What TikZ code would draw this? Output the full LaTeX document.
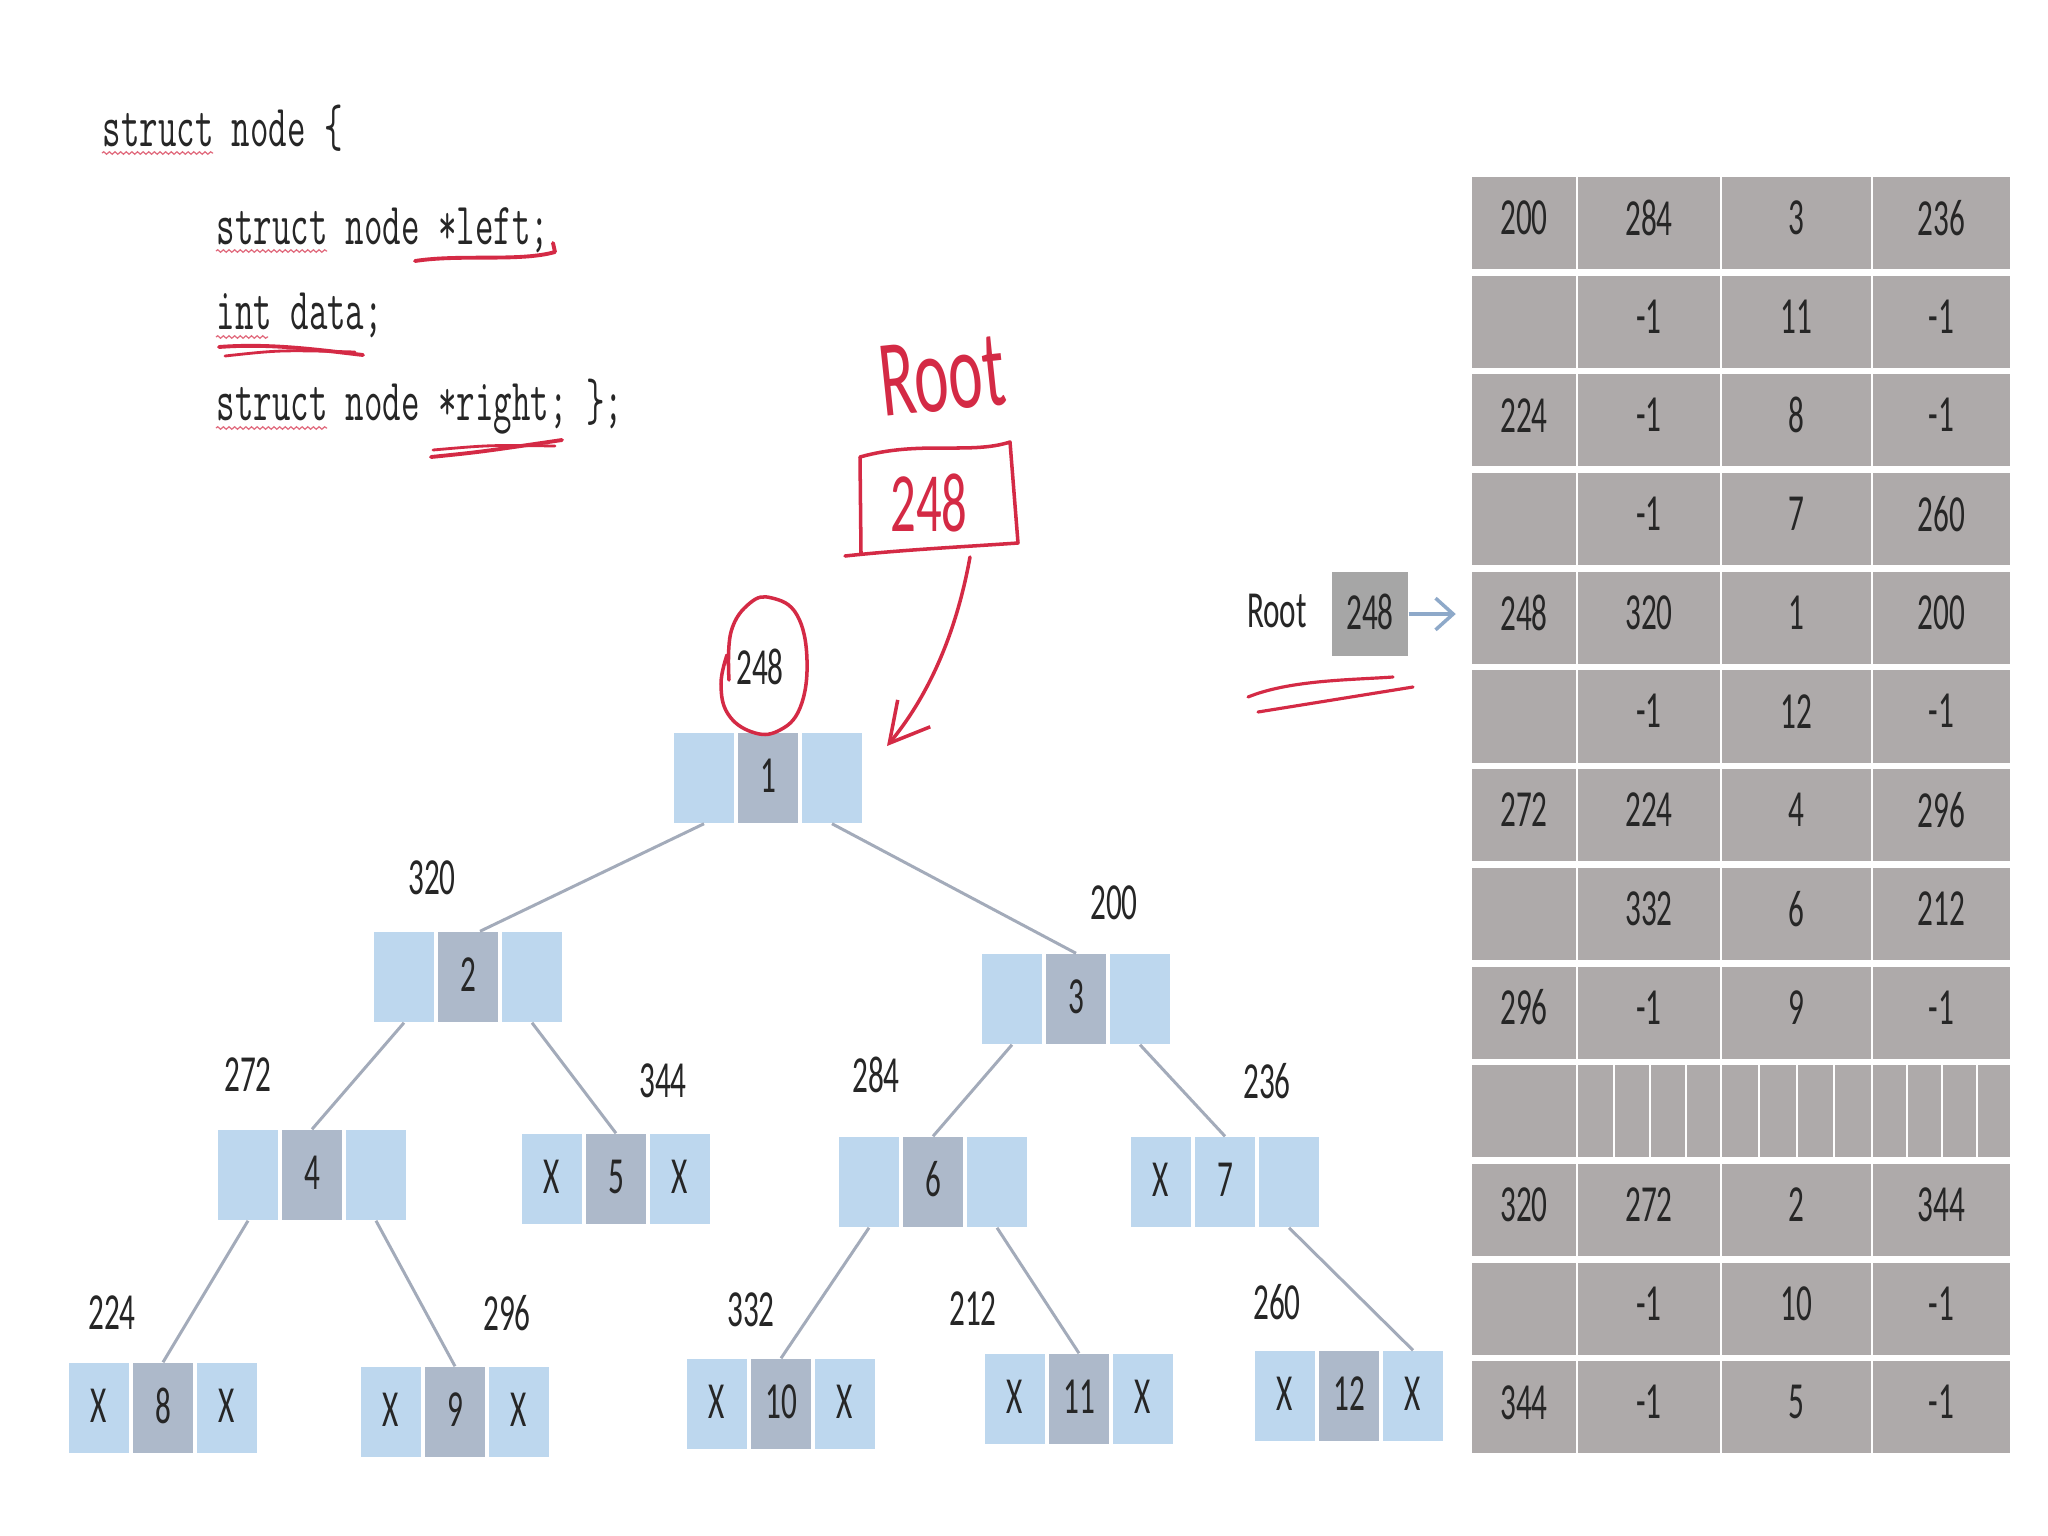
\documentclass[tikz,border=0pt]{standalone}
\usepackage{fontspec}
\usetikzlibrary{arrows.meta,decorations.pathmorphing}
\newfontfamily\numf[FakeStretch=0.6]{Carlito}
\newfontfamily\codef[FakeStretch=0.6]{Latin Modern Mono}
\definecolor{lblue}{HTML}{BDD7EE}
\definecolor{mblue}{HTML}{ADB9CA}
\definecolor{tgray}{HTML}{AEAAAA}
\definecolor{rgray}{HTML}{A6A6A6}
\definecolor{edgec}{HTML}{A3ABBA}
\definecolor{pen}{HTML}{D42A45}
\definecolor{ink}{HTML}{262626}
\definecolor{arrowc}{HTML}{8EA9C9}
\tikzset{
 num/.style={font=\numf\fontsize{14.8}{17}\selectfont, text=ink, inner sep=0pt},
 sidebox/.style={num, fill=lblue, minimum width=0.6cm, minimum height=0.9cm, text depth=1.5pt},
 midbox/.style={num, fill=mblue, minimum width=0.6cm, minimum height=0.9cm, text depth=1.5pt},
 link/.style={draw=edgec, line width=0.85pt},
 cell/.style={num, fill=tgray, minimum height=0.92cm, text depth=3pt},
 code/.style={font=\codef\fontsize{17}{20}\selectfont, text=ink, anchor=base west, inner sep=0pt},
 squig/.style={draw=pen!70, line width=0.35pt, decorate, decoration={snake, amplitude=0.35pt, segment length=1.6pt}},
 marker/.style={draw=pen, line width=1.1pt, line cap=round, line join=round},
 hand/.style={font=\numf\fontsize{31}{34}\selectfont, text=pen, inner sep=0pt},
}
\newcommand\tripl[7]{%
 \node[sidebox] (#1l) at (#2-64,#3) {#4};
 \node[#7] (#1m) at (#2,#3) {#5};
 \node[sidebox] (#1r) at (#2+64,#3) {#6};
}
\begin{document}
\begin{tikzpicture}[x=0.01cm,y=-0.01cm]
\fill[white] (0,0) rectangle (2048,1536);
\useasboundingbox (0,0) rectangle (2048,1536);

% code
\node[code] (c1) at (102,146) {struct node \{};
\node[code] (c2) at (216,244) {struct node *left;};
\node[code] (c3) at (216,329) {int data;};
\node[code] (c4) at (216,420) {struct node *right; \};};
\draw[squig] (102,153) -- (213,153);
\draw[squig] (216,251) -- (327,251);
\draw[squig] (216,337) -- (268,337);
\draw[squig] (216,428) -- (327,428);
\draw[marker] (415,261) .. controls (460,254) and (520,262) .. (555,252) -- (553,243);
\draw[marker] (219,347) .. controls (270,343) and (320,350) .. (363,355);
\draw[marker, line width=0.8pt] (225,356) .. controls (280,350) .. (355,352);
\draw[marker] (431,457) .. controls (480,452) .. (562,440);
\draw[marker, line width=0.8pt] (433,450) .. controls (490,445) .. (555,446);

% handwritten root note
\node[hand, rotate=6] (hroot) at (942,376) {Root};
\node[hand, font=\numf\fontsize{24}{26}\selectfont] (hval) at (929,503) {248};
\draw[marker, line width=1pt] (860,457) .. controls (920,440) and (970,455) .. (1010,442) -- (1018,543) .. controls (960,547) and (900,550) .. (845,556);
\draw[marker, line width=1pt] (860,457) -- (861,553);
\coordinate (arrs) at (970,557);
\coordinate (arre) at (887,746);
\draw[marker, line width=1pt, -{Straight Barb[length=11pt,width=12pt]}] (arrs) .. controls (955,640) and (925,700) .. (arre);

% tree nodes
\tripl{n1}{768}{778}{}{1}{}{midbox}
\tripl{n2}{468}{977}{}{2}{}{midbox}
\tripl{n3}{1076}{999}{}{3}{}{midbox}
\tripl{n4}{312}{1175}{}{4}{}{midbox}
\tripl{n5}{616}{1179}{X}{5}{X}{midbox}
\tripl{n6}{933}{1182}{}{6}{}{midbox}
\tripl{n7}{1225}{1182}{X}{7}{}{sidebox}
\tripl{n8}{163}{1408}{X}{8}{X}{midbox}
\tripl{n9}{455}{1412}{X}{9}{X}{midbox}
\tripl{n10}{781}{1404}{X}{10}{X}{midbox}
\tripl{n11}{1079}{1399}{X}{11}{X}{midbox}
\tripl{n12}{1349}{1396}{X}{12}{X}{midbox}

\draw[link] (n1l.south) -- ([xshift=1.2mm]n2m.north);
\draw[link] (n1r.south) -- (n3m.north);
\draw[link] (n2l.south) -- (n4m.north);
\draw[link] (n2r.south) -- (n5m.north);
\draw[link] (n3l.south) -- (n6m.north);
\draw[link] (n3r.south) -- (n7m.north);
\draw[link] (n4l.south) -- (n8m.north);
\draw[link] (n4r.south) -- (n9m.north);
\draw[link] (n6l.south) -- (n10m.north);
\draw[link] (n6r.south) -- (n11m.north);
\draw[link] (n7r.south) -- (n12r.north);

% address labels
\node[num] (a1) at (760,667) {248};
\node[num] (a2) at (432,878) {320};
\node[num] (a3) at (1114,903) {200};
\node[num] (a4) at (248,1075) {272};
\node[num] (a5) at (663,1081) {344};
\node[num] (a6) at (876,1075) {284};
\node[num] (a7) at (1267,1081) {236};
\node[num] (a8) at (112,1313) {224};
\node[num] (a9) at (507,1313) {296};
\node[num] (a10) at (751,1310) {332};
\node[num] (a11) at (973,1309) {212};
\node[num] (a12) at (1277,1302) {260};
\draw[pen, line width=1pt, line cap=round] plot[smooth, tension=0.7] coordinates {(729,680) (731,632) (750,603) (772,598) (797,615) (807,660) (800,708) (778,731) (752,732) (728,714) (721,684) (727,655)};

% root pointer
\node[num] (rootlbl) at (1277,611) {Root};
\node[num, fill=rgray, minimum width=0.76cm, minimum height=0.84cm, text depth=1.5pt] (rootbox) at (1370,614) {248};
\draw[marker, line width=0.9pt] (1248,697) .. controls (1290,680) and (1350,680) .. (1393,677);
\draw[marker, line width=0.9pt] (1258,712) .. controls (1320,702) .. (1413,687);

% table
\foreach \i/\a/\b/\c/\d in {0/200/284/3/236, 1//-1/11/-1, 2/224/-1/8/-1, 3//-1/7/260, 4/248/320/1/200, 5//-1/12/-1, 6/272/224/4/296, 7//332/6/212, 8/296/-1/9/-1, 9////, 10/320/272/2/344, 11//-1/10/-1, 12/344/-1/5/-1} {
  \pgfmathsetmacro\yy{223+98.7*\i}
  \node[cell, minimum width=1.03cm] (t\i a) at (1524,\yy) {\a};
  \node[cell, minimum width=1.41cm] (t\i b) at (1649,\yy) {\b};
  \node[cell, minimum width=1.48cm] (t\i c) at (1796.5,\yy) {\c};
  \node[cell, minimum width=1.36cm] (t\i d) at (1941.5,\yy) {\d};
}
\foreach \xx in {1614,1650,1686,1759,1797,1834,1907,1942,1977} {
  \draw[white, line width=0.7pt] (\xx,0|-t9b.north) -- (\xx,0|-t9b.south);
}
\draw[arrowc, line width=1pt, -{Straight Barb[length=5pt,width=9pt]}] (rootbox.east) -- ([xshift=-1.6mm]rootbox.east -| t4a.west);
\end{tikzpicture}
\end{document}
